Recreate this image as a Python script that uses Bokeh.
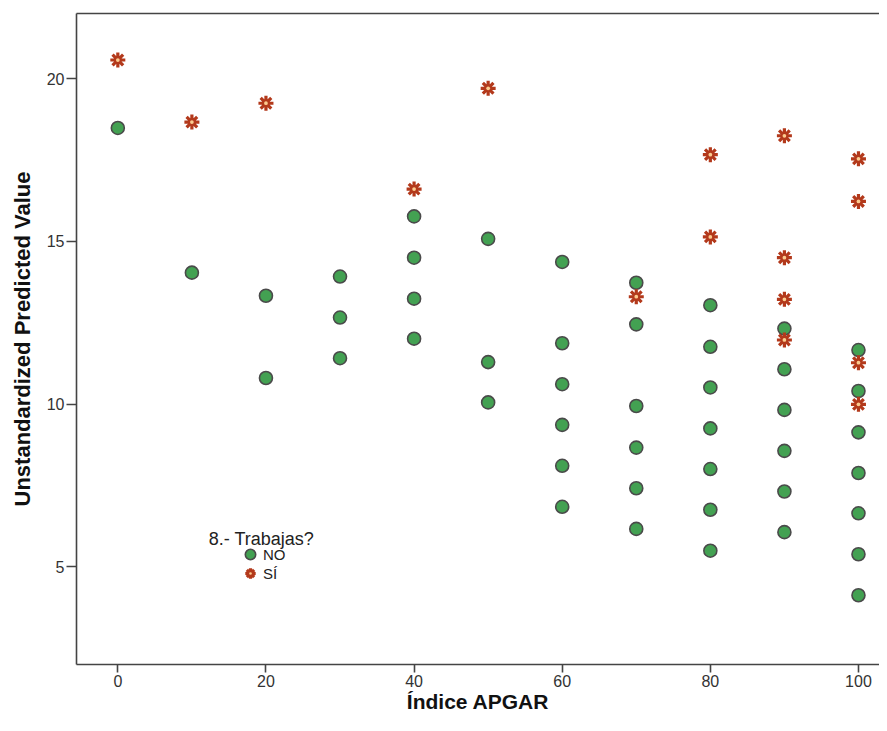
from bokeh.plotting import figure
from bokeh.models import Range1d, FixedTicker, Legend, LegendItem, Label, LinearAxis
from bokeh.embed import file_html
from bokeh.resources import INLINE

# ---- data ----
apgar_no = [0, 10, 20, 20, 30, 30, 30, 40, 40, 40, 40, 50, 50, 50,
            60, 60, 60, 60, 60, 60, 70, 70, 70, 70, 70, 70,
            80, 80, 80, 80, 80, 80, 80, 90, 90, 90, 90, 90, 90,
            100, 100, 100, 100, 100, 100, 100]
pred_no = [18.49, 14.04, 13.33, 10.80, 13.92, 12.66, 11.41, 15.77, 14.50, 13.24, 12.01,
           15.08, 11.29, 10.05,
           14.37, 11.87, 10.61, 9.36, 8.10, 6.84,
           13.73, 12.45, 9.94, 8.66, 7.41, 6.16,
           13.04, 11.76, 10.51, 9.25, 8.00, 6.75, 5.49,
           12.32, 11.07, 9.82, 8.56, 7.31, 6.06,
           11.66, 10.40, 9.13, 7.88, 6.64, 5.38, 4.12]
apgar_si = [0, 10, 20, 40, 50, 70, 80, 80, 90, 90, 90, 90, 100, 100, 100, 100]
pred_si = [20.58, 18.67, 19.25, 16.61, 19.71, 13.30, 17.67, 15.14,
           18.25, 14.50, 13.22, 11.97, 17.54, 16.23, 11.27, 9.99]

x_ticks = [0, 20, 40, 60, 80, 100]
y_ticks = [5, 10, 15, 20]
x_title = "Índice APGAR"
y_title = "Unstandardized Predicted Value"
legend_title = "8.- Trabajas?"
labels = ["NO", "SÍ"]

FONT = "Liberation Sans"
AX = "#444444"

p = figure(width=879, height=715, output_backend="svg", toolbar_location=None,
           x_range=Range1d(-5.58, 102.84), y_range=Range1d(1.99, 22.01),
           min_border_left=76, min_border_right=0, min_border_top=13, min_border_bottom=49)
p.background_fill_color = "white"
p.border_fill_color = "white"
p.outline_line_color = None
p.xgrid.visible = False
p.ygrid.visible = False

for ax in (p.xaxis[0], p.yaxis[0]):
    ax.axis_line_color = AX
    ax.axis_line_width = 1.6
    ax.major_tick_line_color = AX
    ax.major_tick_line_width = 1.6
    ax.major_tick_in = 0
    ax.minor_tick_line_color = None
    ax.major_label_text_font = FONT
    ax.major_label_text_font_size = "16px"
    ax.major_label_text_color = "#333333"
    ax.axis_label_text_font = FONT
    ax.axis_label_text_font_style = "bold"
    ax.axis_label_text_color = "#111111"

p.xaxis.axis_label_text_font_size = "21px"
p.yaxis.axis_label_text_font_size = "22px"
p.xaxis.ticker = FixedTicker(ticks=x_ticks)
p.yaxis.ticker = FixedTicker(ticks=y_ticks)
p.xaxis.axis_label = x_title
p.yaxis.axis_label = y_title
p.xaxis.major_tick_out = 8
p.xaxis.major_label_standoff = 2
p.xaxis.axis_label_standoff = 0
p.yaxis.major_tick_out = 10
p.yaxis.major_label_standoff = 2
p.yaxis.axis_label_standoff = 9

# top border line of the frame (no right border in the reference)
top_axis = LinearAxis(ticker=FixedTicker(ticks=[]), axis_line_color=AX, axis_line_width=1.6,
                      major_tick_line_color=None, minor_tick_line_color=None,
                      major_label_text_font_size="0px")
p.add_layout(top_axis, "above")

r_no = p.scatter(apgar_no, pred_no, marker="circle", size=13,
                 fill_color="#43A152", line_color="#4A4A4A", line_width=1.6)
r_si1 = p.scatter(apgar_si, pred_si, marker="asterisk", size=15,
                  line_color="#B3391B", line_width=3.2)
r_si2 = p.scatter(apgar_si, pred_si, marker="dot", size=15,
                  line_color="#FCCB8F", fill_color="#FCCB8F", line_width=1)

legend_kw = dict(orientation="vertical", glyph_width=26, glyph_height=26, label_height=18,
                 label_width=20, label_standoff=0, spacing=0, padding=0, margin=0,
                 border_line_color=None, background_fill_alpha=0,
                 label_text_font=FONT, label_text_font_size="15px",
                 label_text_color="#222222")
legend_no = Legend(items=[LegendItem(label=labels[0], renderers=[r_no])],
                   location=(161, 97), **legend_kw)
legend_si = Legend(items=[LegendItem(label=labels[1], renderers=[r_si1, r_si2])],
                   location=(161, 78), **legend_kw)
p.add_layout(legend_no)
p.add_layout(legend_si)

p.add_layout(Label(x=185, y=126, x_units="screen", y_units="screen", text=legend_title,
                   text_align="center", text_baseline="middle", text_font=FONT,
                   text_font_size="18px", text_color="#222222"))

open("out.html", "w").write(file_html(p, INLINE))
